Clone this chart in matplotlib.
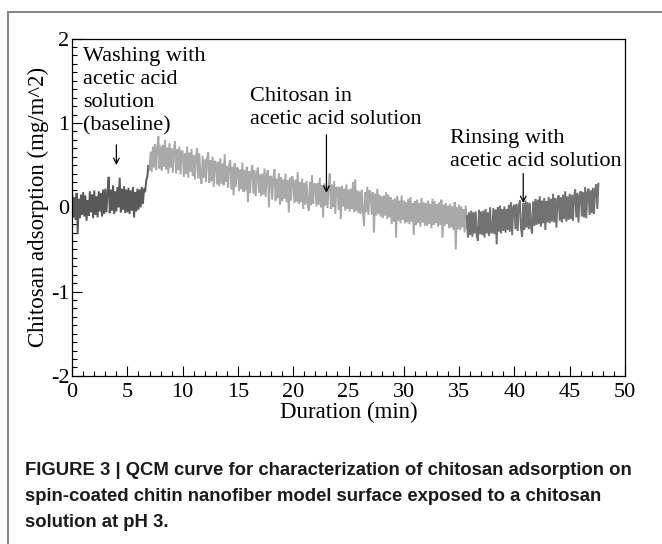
#!/usr/bin/env python3
# QCM curve: chitosan adsorption on chitin nanofiber surface
import numpy as np
import matplotlib
matplotlib.use('Agg')
import matplotlib.pyplot as plt
from matplotlib.lines import Line2D
from matplotlib.ticker import MultipleLocator

plt.rcParams['font.family'] = ['Liberation Serif', 'DejaVu Serif']
plt.rcParams['axes.unicode_minus'] = False

# sampling step of the readings (min)
step = 0.1

# washing with acetic acid solution (baseline), 0.0 - 7.0 min
wash_start = 0.0
wash_values = [
    0.16, -0.12, 0.12, -0.15, 0.17, -0.32, 0.10, -0.13, 0.15, -0.09,
    0.18, -0.11, 0.14, -0.16, 0.08, -0.10, 0.19, -0.06, 0.15, -0.13,
    0.20, -0.09, 0.13, -0.12, 0.19, -0.05, 0.17, -0.11, 0.21, -0.08,
    0.22, -0.06, 0.17, 0.36, -0.07, 0.21, -0.04, 0.26, -0.08, 0.19,
    -0.05, 0.24, 0.00, 0.35, -0.06, 0.22, -0.03, 0.25, -0.07, 0.21,
    -0.06, 0.23, -0.08, 0.20, -0.04, 0.24, -0.12, 0.18, -0.05, 0.22,
    -0.03, 0.21, 0.00, 0.24, 0.04, 0.22, 0.18, 0.32, 0.36, 0.50,
    0.45,
]

# chitosan in acetic acid solution, 7.0 - 35.7 min
chitosan_start = 7.0
chitosan_values = [
    0.45, 0.66, 0.42, 0.72, 0.47, 0.75, 0.44, 0.70, 0.84, 0.46,
    0.73, 0.43, 0.74, 0.48, 0.80, 0.45, 0.71, 0.40, 0.76, 0.47,
    0.70, 0.41, 0.68, 0.78, 0.40, 0.69, 0.44, 0.72, 0.39, 0.67,
    0.66, 0.36, 0.64, 0.40, 0.72, 0.35, 0.65, 0.42, 0.69, 0.37,
    0.62, 0.33, 0.60, 0.70, 0.34, 0.64, 0.36, 0.28, 0.61, 0.35,
    0.57, 0.30, 0.58, 0.65, 0.29, 0.56, 0.31, 0.60, 0.24, 0.55,
    0.53, 0.27, 0.54, 0.25, 0.58, 0.28, 0.52, 0.26, 0.63, 0.30,
    0.49, 0.23, 0.50, 0.56, 0.21, 0.48, 0.14, 0.52, 0.24, 0.47,
    0.46, 0.19, 0.45, 0.22, 0.53, 0.18, 0.44, 0.20, 0.48, 0.06,
    0.43, 0.17, 0.42, 0.50, 0.16, 0.44, 0.13, 0.40, 0.47, 0.17,
    0.39, 0.13, 0.40, 0.15, 0.46, 0.12, 0.38, 0.44, 0.00, 0.37,
    0.36, 0.09, 0.35, 0.45, 0.08, 0.34, 0.11, 0.40, 0.03, 0.36,
    0.07, 0.33, 0.10, 0.40, 0.06, 0.32, -0.06, 0.35, 0.08, 0.37,
    0.31, 0.05, 0.33, 0.07, 0.42, 0.04, 0.30, 0.06, 0.34, -0.02,
    0.29, 0.03, 0.31, 0.06, -0.04, 0.30, 0.02, 0.38, 0.04, 0.28,
    0.27, 0.01, 0.29, 0.03, 0.35, 0.00, 0.26, -0.12, 0.28, 0.02,
    0.25, -0.01, 0.26, 0.40, -0.02, 0.27, 0.00, 0.31, -0.08, 0.24,
    0.23, -0.03, 0.24, -0.14, 0.25, 0.01, 0.22, -0.04, 0.27, -0.02,
    0.21, -0.05, 0.22, -0.02, 0.30, -0.06, 0.33, -0.04, 0.20, -0.07,
    0.19, -0.08, 0.21, -0.05, -0.22, 0.18, -0.06, 0.24, -0.09, 0.20,
    0.17, -0.09, 0.18, -0.30, 0.16, -0.10, 0.22, -0.08, 0.15, -0.11,
    0.13, -0.13, 0.14, -0.10, 0.18, -0.14, 0.15, -0.12, 0.12, -0.20,
    0.09, -0.17, 0.10, -0.36, 0.13, -0.16, 0.08, -0.19, 0.14, -0.15,
    0.08, -0.19, 0.06, -0.18, 0.10, -0.20, 0.12, -0.17, 0.05, -0.33,
    0.07, -0.21, 0.09, -0.19, 0.05, -0.23, 0.11, -0.18, 0.06, -0.22,
    0.05, -0.22, 0.08, -0.20, 0.04, -0.25, 0.10, -0.21, 0.07, -0.19,
    0.04, -0.23, 0.06, -0.21, 0.09, -0.36, 0.03, -0.22, 0.05, -0.20,
    0.02, -0.25, 0.04, -0.24, 0.01, -0.27, 0.06, -0.50, 0.00, -0.26,
    0.03, -0.27, 0.01, -0.24, -0.02, -0.30, 0.02, -0.25,
]

# rinsing with acetic acid solution, 35.7 - 47.6 min
rinse_start = 35.7
rinse_values = [
    -0.10, -0.36, -0.06,
    -0.33, -0.04, -0.35, -0.06, -0.31, -0.05, -0.34, -0.40, -0.03, -0.32,
    -0.05, -0.33, -0.04, -0.36, -0.02, -0.31, -0.06, -0.34, 0.00, -0.30,
    -0.30, -0.01, -0.32, -0.03, -0.44, 0.00, -0.29, 0.02, -0.31, -0.02,
    -0.28, 0.01, -0.30, -0.02, -0.27, 0.03, -0.29, 0.06, -0.33, 0.00,
    0.03, -0.26, 0.04, -0.28, 0.02, 0.08, -0.25, -0.35, 0.05, -0.27,
    0.08, -0.24, 0.06, -0.26, 0.05, -0.23, -0.31, 0.07, -0.22, 0.10,
    -0.21, 0.09, -0.20, 0.13, -0.23, 0.08, -0.19, 0.11, -0.27, 0.07,
    -0.18, 0.12, -0.19, 0.10, -0.17, 0.16, -0.18, 0.11, -0.24, 0.09,
    0.14, -0.16, 0.12, -0.18, 0.15, -0.14, 0.19, -0.17, 0.13, -0.15,
    0.16, -0.14, 0.15, -0.16, 0.13, 0.21, -0.12, 0.17, -0.18, 0.14,
    0.19, -0.11, 0.18, -0.12, 0.24, -0.13, 0.17, 0.22, -0.09, 0.20,
    -0.07, 0.23, -0.08, 0.21, 0.27, -0.02, 0.28,
]

segments = [
    (wash_start, wash_values, '#595959'),
    (chitosan_start, chitosan_values, '#a9a9a9'),
    (rinse_start, rinse_values, '#727272'),
]

fig = plt.figure(figsize=(6.62, 5.44), dpi=100)
ax = fig.add_axes([0.109, 0.309, 0.835, 0.620])

for start, values, color in segments:
    t = start + step * np.arange(len(values))
    ax.plot(t, values, color=color, lw=1.4, solid_joinstyle='miter')

ax.set_xlim(0, 50)
ax.set_ylim(-2, 2)
ax.xaxis.set_major_locator(MultipleLocator(5))
ax.xaxis.set_minor_locator(MultipleLocator(1))
ax.yaxis.set_major_locator(MultipleLocator(1))
ax.yaxis.set_minor_locator(MultipleLocator(0.1))
ax.tick_params(which='both', direction='in', top=False, right=False,
               labelsize=16, width=0.8)
ax.tick_params(which='major', length=7)
ax.tick_params(axis='x', which='major', pad=5)
ax.tick_params(axis='y', which='major', pad=2)
ax.tick_params(which='minor', length=3.5)
for s in ax.spines.values():
    s.set_linewidth(0.9)

ax.set_xlabel('Duration (min)', fontsize=16.5, labelpad=0)
ax.set_ylabel('Chitosan adsorption (mg/m^2)', fontsize=16.5, labelpad=1)

# annotations
txt = dict(fontsize=16, ha='left', va='top', linespacing=1.3)
ax.text(1.0, 1.90, 'Washing with\nacetic acid\nsolution\n(baseline)', **txt)
ax.text(16.1, 1.43, 'Chitosan in\nacetic acid solution', **txt)
ax.text(34.2, 0.93, 'Rinsing with\nacetic acid solution', **txt)

arrow = dict(arrowstyle='->', color='black', lw=0.9, shrinkA=0, shrinkB=0)
ax.annotate('', xy=(4.0, 0.50), xytext=(4.0, 0.74), arrowprops=arrow)
ax.annotate('', xy=(23.0, 0.17), xytext=(23.0, 0.86), arrowprops=arrow)
ax.annotate('', xy=(40.8, 0.05), xytext=(40.8, 0.40), arrowprops=arrow)

# outer frame of the figure panel
frame = dict(color='#888888', lw=1.5, transform=fig.transFigure)
fig.add_artist(Line2D([8 / 662, 1.0], [1 - 12 / 544, 1 - 12 / 544], **frame))
fig.add_artist(Line2D([8 / 662, 8 / 662], [1 - 12 / 544, 0.0], **frame))

caption = ('FIGURE 3 | QCM curve for characterization of chitosan adsorption on\n'
           'spin-coated chitin nanofiber model surface exposed to a chitosan\n'
           'solution at pH 3.')
fig.text(25 / 662, 1 - 462 / 544, caption, fontsize=13.3, fontweight='bold',
         family=['Liberation Sans'],
         ha='left', va='top', linespacing=1.7, color='#1a1a1a')

fig.savefig('out.png', dpi=100)
